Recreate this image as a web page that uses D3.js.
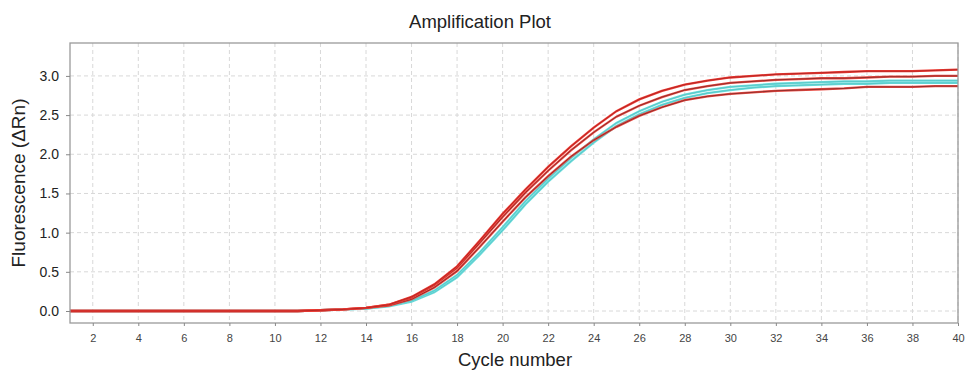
<!DOCTYPE html>
<html>
<head>
<meta charset="utf-8">
<script src="https://cdn.jsdelivr.net/npm/d3@7"></script>
<style>
  body { margin: 0; background: #fff; }
  svg { font-family: "Liberation Sans", Arial, sans-serif; }
</style>
</head>
<body>
<svg width="967" height="372"></svg>
<script>
// cycles 1..40
var cycles = d3.range(1, 41)

var yTicks = [0, 0.5, 1.0, 1.5, 2.0, 2.5, 3.0]
var xTicks = d3.range(2, 41, 2)

var flat = [0, 0, 0, 0, 0, 0, 0, 0, 0, 0, 0]   // cycles 1-11

var redTop = flat.concat([0.01, 0.02, 0.04, 0.08, 0.18, 0.34, 0.57, 0.90, 1.24, 1.55, 1.84, 2.10, 2.34, 2.55, 2.70, 2.81, 2.89, 2.94, 2.98, 3.00, 3.02, 3.03, 3.04, 3.05, 3.06, 3.06, 3.06, 3.07, 3.08])
var redMid = flat.concat([0.01, 0.02, 0.04, 0.08, 0.17, 0.33, 0.55, 0.87, 1.20, 1.51, 1.79, 2.05, 2.28, 2.48, 2.62, 2.73, 2.82, 2.87, 2.91, 2.93, 2.95, 2.96, 2.97, 2.97, 2.98, 2.99, 2.99, 3.00, 3.00])
var cyanA = flat.concat([0.01, 0.02, 0.03, 0.07, 0.13, 0.26, 0.46, 0.75, 1.07, 1.40, 1.69, 1.95, 2.19, 2.40, 2.55, 2.67, 2.76, 2.82, 2.86, 2.88, 2.90, 2.91, 2.92, 2.93, 2.93, 2.94, 2.94, 2.94, 2.94])
var cyanB = flat.concat([0.01, 0.02, 0.03, 0.06, 0.12, 0.24, 0.43, 0.72, 1.03, 1.36, 1.65, 1.91, 2.15, 2.36, 2.51, 2.63, 2.72, 2.78, 2.82, 2.85, 2.87, 2.88, 2.89, 2.90, 2.90, 2.91, 2.91, 2.91, 2.91])
var redLow = flat.concat([0.01, 0.02, 0.04, 0.07, 0.15, 0.30, 0.51, 0.82, 1.14, 1.45, 1.72, 1.97, 2.18, 2.35, 2.49, 2.60, 2.69, 2.74, 2.77, 2.79, 2.81, 2.82, 2.83, 2.84, 2.86, 2.86, 2.86, 2.87, 2.87])

var series = [
  { values: cyanB, color: '#6fdcdc', core: '#52c4c4' },
  { values: cyanA, color: '#6fdcdc', core: '#52c4c4' },
  { values: redLow, color: '#ea4a42', core: '#7e2626' },
  { values: redMid, color: '#ea4a42', core: '#7e2626' },
  { values: redTop, color: '#ee3a32', core: '#a82222' }
]

var svg = d3.select("svg")
var mLeft = 70, mRight = 958, mTop = 43, mBottom = 323

var x = d3.scaleLinear().domain([1, 40]).range([mLeft, mRight])
var y = d3.scaleLinear().domain([-0.153, 3.42]).range([mBottom, mTop])

// grid
svg.append("g").selectAll("line")
    .data(yTicks)
  .enter().append("line")
    .attr("x1", mLeft).attr("x2", mRight)
    .attr("y1", d => y(d)).attr("y2", d => y(d))
    .attr("stroke", "#d8d8d8")
    .attr("stroke-dasharray", "4,3")

svg.append("g").selectAll("line")
    .data(xTicks)
  .enter().append("line")
    .attr("x1", d => x(d)).attr("x2", d => x(d))
    .attr("y1", mTop).attr("y2", mBottom)
    .attr("stroke", "#d8d8d8")
    .attr("stroke-dasharray", "4,3")

// curves
var line = d3.line()
    .x((d, i) => x(cycles[i]))
    .y(d => y(d))

series.forEach(function (s) {
  svg.append("path")
    .attr("d", line(s.values))
    .attr("fill", "none")
    .attr("stroke", s.color)
    .attr("stroke-width", 2.3)
  svg.append("path")
    .attr("d", line(s.values))
    .attr("fill", "none")
    .attr("stroke", s.core)
    .attr("stroke-width", 0.8)
})

// frame
svg.append("rect")
    .attr("x", mLeft).attr("y", mTop)
    .attr("width", mRight - mLeft).attr("height", mBottom - mTop)
    .attr("fill", "none")
    .attr("stroke", "#9a9a9a")
    .attr("stroke-width", 1.3)

// axes
var yAxis = svg.append("g")
    .attr("transform", "translate(" + mLeft + ",0)")
    .call(d3.axisLeft(y).tickValues(yTicks).tickFormat(d3.format(".1f")).tickSize(4).tickPadding(7))
yAxis.select(".domain").remove()
yAxis.selectAll("line").attr("stroke", "#888")
yAxis.selectAll("text").attr("font-size", 14).attr("fill", "#222")
    .attr("font-family", "Liberation Sans, Arial, sans-serif")

var xAxis = svg.append("g")
    .attr("transform", "translate(0," + mBottom + ")")
    .call(d3.axisBottom(x).tickValues(xTicks).tickSize(3).tickPadding(8))
xAxis.select(".domain").remove()
xAxis.selectAll("line").attr("stroke", "#888")
xAxis.selectAll("text").attr("font-size", 11).attr("fill", "#444")
    .attr("font-family", "Liberation Sans, Arial, sans-serif")

// titles
svg.append("text")
    .attr("x", 480).attr("y", 28)
    .attr("text-anchor", "middle")
    .attr("font-size", 18.5)
    .attr("fill", "#222")
    .text("Amplification Plot")

svg.append("text")
    .attr("x", 515).attr("y", 366)
    .attr("text-anchor", "middle")
    .attr("font-size", 18.5)
    .attr("fill", "#222")
    .text("Cycle number")

svg.append("text")
    .attr("transform", "translate(25," + ((mTop + mBottom) / 2) + ") rotate(-90)")
    .attr("text-anchor", "middle")
    .attr("font-size", 19)
    .attr("fill", "#222")
    .text("Fluorescence (ΔRn)")
</script>
</body>
</html>
